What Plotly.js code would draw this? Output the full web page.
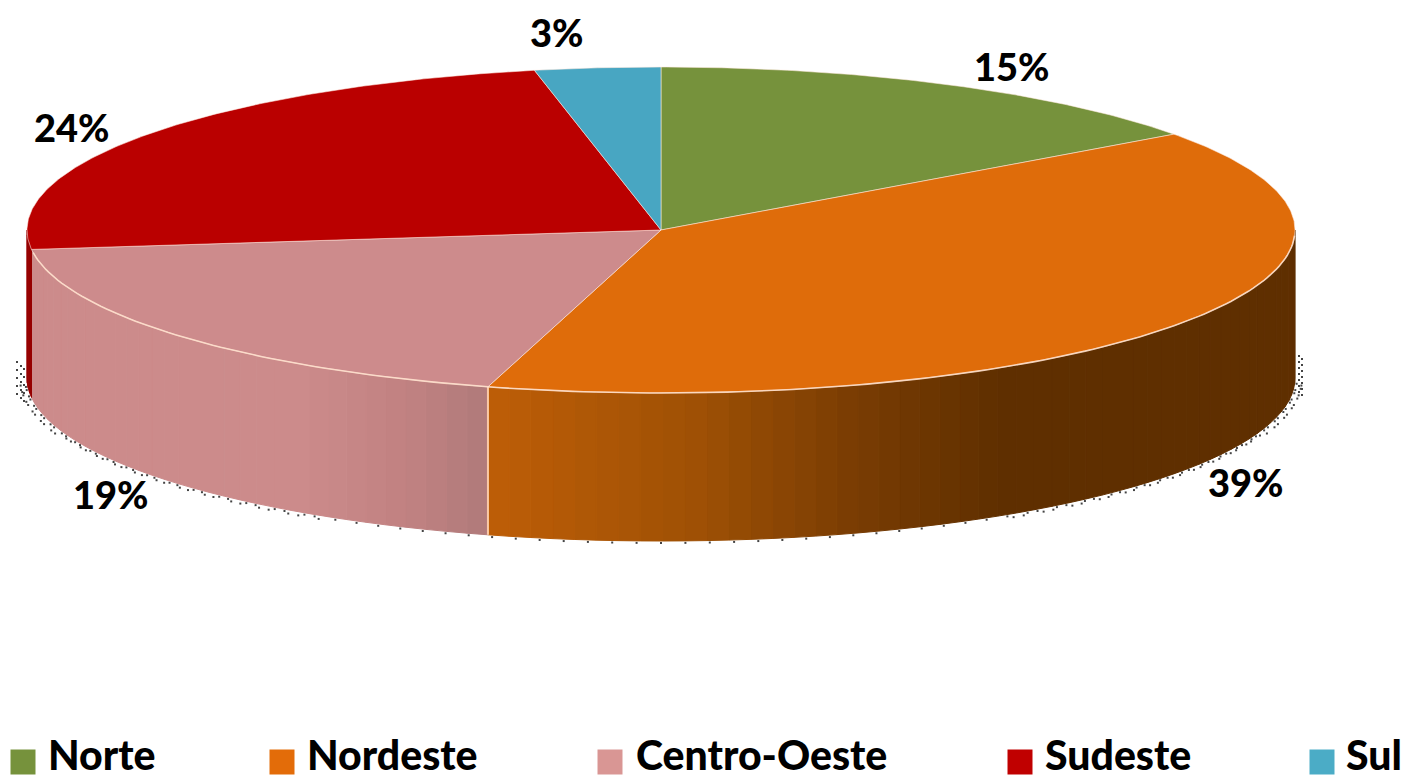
<!DOCTYPE html>
<html>
<head>
<meta charset="utf-8">
<script src="https://cdn.plot.ly/plotly-3.0.1.min.js"></script>
<style>html,body{margin:0;padding:0;background:#fff;overflow:hidden}#chart{width:1406px;height:779px}</style>
</head>
<body>
<div id="chart"></div>
<script>
const categories = ["Norte", "Nordeste", "Centro-Oeste", "Sudeste", "Sul"];
const values = [15.0, 39.4, 18.7, 23.7, 3.2];
const topColors = ["#76923C", "#DF6C0A", "#CD8B8C", "#BA0000", "#48A6C2"];
const legendColors = ["#76923C", "#E36C09", "#D99694", "#C00000", "#4BACC6"];
const labelX = [1012, 1246, 111, 72, 556];
const labelY = [66, 482, 494, 127, 32];
const legendMarkX = [23, 282, 610, 1020, 1322];
const legendTextX = [48, 307, 636, 1045, 1346];

const cx = 661, cy = 230, rx = 634, ry = 163, depth = 148;
const edge = "rgba(255,225,205,0.85)";
const rad = d => d * Math.PI / 180;
const px = d => cx + rx * Math.sin(rad(d));
const py = d => cy - ry * Math.cos(rad(d));
const total = values.reduce((a, b) => a + b, 0);
let acc = 0;
const bounds = values.map(v => { const s = acc; acc += v; return [s / total * 360, acc / total * 360]; });

function lerpStops(stops, x) {
  if (x <= stops[0][0]) return stops[0][1];
  for (let i = 1; i < stops.length; i++) {
    if (x <= stops[i][0]) {
      const t = (x - stops[i-1][0]) / (stops[i][0] - stops[i-1][0]);
      return stops[i-1][1].map((c, k) => Math.round(c + (stops[i][1][k] - c) * t));
    }
  }
  return stops[stops.length - 1][1];
}
const wallStops = {
  1: [[488,[190,94,7]],[700,[158,80,5]],[850,[122,61,3]],[1000,[95,47,0]],[1295,[95,47,0]]],
  2: [[30,[204,139,139]],[300,[204,139,139]],[400,[194,130,130]],[488,[176,122,122]]],
  3: [[0,[150,0,0]],[40,[150,0,0]]]
};

const traces = [];
function base(o) { return Object.assign({type: "scatter", hoverinfo: "skip", showlegend: false, cliponaxis: false}, o); }

// side walls
bounds.forEach((b, i) => {
  const from = Math.max(b[0], 90), to = Math.min(b[1], 270);
  if (to <= from || !wallStops[i]) return;
  const n = Math.max(1, Math.ceil((to - from) / 2));
  for (let k = 0; k < n; k++) {
    const a0 = from + (to - from) * k / n, a1 = from + (to - from) * (k + 1) / n;
    const xs = [], ys = [];
    for (let j = 0; j <= 4; j++) { const a = a0 + (a1 - a0) * j / 4; xs.push(px(a)); ys.push(py(a)); }
    for (let j = 4; j >= 0; j--) { const a = a0 + (a1 - a0) * j / 4; xs.push(px(a)); ys.push(py(a) + depth); }
    xs.push(xs[0]); ys.push(ys[0]);
    const c = lerpStops(wallStops[i], px((a0 + a1) / 2));
    const col = "rgb(" + c.join(",") + ")";
    traces.push(base({x: xs, y: ys, mode: "lines", fill: "toself", fillcolor: col, line: {color: col, width: 1}}));
  }
});
// shadow dots under the wall, as in the source's dotted rim
const dx = [], dy = [];
for (let a = 92, k = 0; a < 268; a += 0.55, k++) {
  const far = Math.abs(a - 180);
  if (far < 32) { if (k % 4) continue; }
  else if (k % 3 === 2) continue;
  const off = 2 + (k % 2) * (far > 70 ? 5 : 2);
  dx.push(cx + (rx + off) * Math.sin(rad(a)));
  dy.push(cy + depth - (ry + off) * Math.cos(rad(a)));
}
[1299, 1302].forEach(x => { for (let y = 356; y < 398; y += 6) { dx.push(x); dy.push(y + (x - 1299)); } });
[17, 21, 24].forEach(x => { for (let y = 362; y < 395; y += 8) { dx.push(x); dy.push(y + (x - 17)); } });
traces.unshift(base({x: dx, y: dy, mode: "markers", marker: {size: 2, color: "#444444", symbol: "square"}}));

// front edges between walls
[bounds[1][1]].forEach(a => {
  traces.push(base({x: [px(a), px(a)], y: [py(a), py(a) + depth], mode: "lines", line: {color: "rgba(255,205,170,0.95)", width: 2}}));
});

// top faces
bounds.forEach((b, i) => {
  const xs = [cx], ys = [cy];
  const n = Math.ceil((b[1] - b[0]) * 2);
  for (let j = 0; j <= n; j++) { const a = b[0] + (b[1] - b[0]) * j / n; xs.push(px(a)); ys.push(py(a)); }
  xs.push(cx); ys.push(cy);
  traces.push(base({x: xs, y: ys, mode: "lines", fill: "toself", fillcolor: topColors[i], line: {color: "rgba(255,235,225,0.55)", width: 1}, name: categories[i]}));
});
// light rim on the front of the top face
const rimX = [], rimY = [];
for (let a = 92; a <= 262; a += 1) { rimX.push(px(a)); rimY.push(py(a)); }
traces.push(base({x: rimX, y: rimY, mode: "lines", line: {color: edge, width: 1.6}}));

// legend swatches
categories.forEach((c, i) => {
  traces.push(base({x: [legendMarkX[i]], y: [762], mode: "markers", name: c,
    marker: {symbol: "square", size: 25, color: legendColors[i]}}));
});

const font = "Lato, 'Open Sans', sans-serif";
const annotations = [];
values.forEach((v, i) => annotations.push({x: labelX[i], y: labelY[i], xref: "x", yref: "y", showarrow: false,
  text: Math.round(v) + "%", xanchor: "center", yanchor: "middle", font: {family: font, size: 38, weight: 900, color: "#000"}}));
categories.forEach((c, i) => annotations.push({x: legendTextX[i], y: 754, xref: "x", yref: "y", showarrow: false,
  text: c, xanchor: "left", yanchor: "middle", xshift: -2, font: {family: font, size: 41, weight: 900, color: "#000"}}));

Plotly.newPlot("chart", traces, {
  width: 1406, height: 779, margin: {l: 0, r: 0, t: 0, b: 0},
  paper_bgcolor: "#fff", plot_bgcolor: "#fff", showlegend: false, hovermode: false,
  xaxis: {range: [0, 1406], visible: false, fixedrange: true},
  yaxis: {range: [779, 0], visible: false, fixedrange: true},
  annotations
}, {displayModeBar: false, responsive: false});
</script>
</body>
</html>
